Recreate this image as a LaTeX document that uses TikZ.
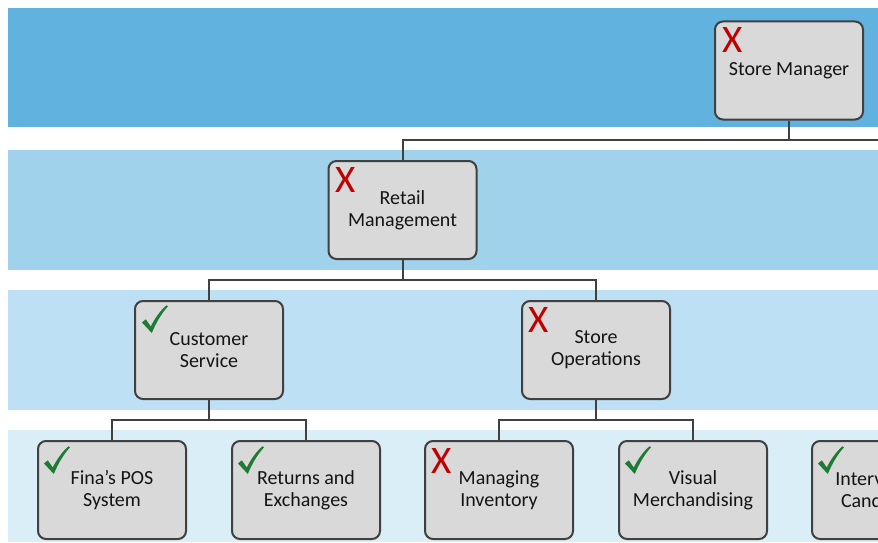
\documentclass[tikz,border=0pt]{standalone}
\usepackage{fontspec}
\setmainfont{Carlito}
\definecolor{bandA}{HTML}{62B2E0}
\definecolor{bandB}{HTML}{A0D2EC}
\definecolor{bandC}{HTML}{BDE0F5}
\definecolor{bandD}{HTML}{DAEEF8}
\definecolor{boxfill}{HTML}{D9D9D9}
\definecolor{boxline}{HTML}{404040}
\definecolor{xred}{HTML}{C00000}
\definecolor{okgreen}{HTML}{1E7B34}
\definecolor{txt}{HTML}{141414}
\begin{document}
\begin{tikzpicture}[x=1pt,y=-1pt,
  orgbox/.style={draw=boxline, fill=boxfill, line width=2pt, rounded corners=8pt,
    minimum width=148pt, minimum height=98pt, align=center, text=txt,
    font=\fontsize{20}{22}\selectfont, inner sep=0pt},
  conn/.style={draw=boxline, line width=2pt},
  xmark/.style={text=xred, font=\fontsize{39}{39}\selectfont, inner sep=0pt},
  okcheck/.pic={\fill[okgreen] (0,17.5) -- (3.8,14.3) -- (8.8,21.5)
     .. controls (13,13) and (18,6) .. (24.5,0.3) -- (26,1.3)
     .. controls (19,9) and (14,18) .. (9.8,28) -- cycle;}]
\useasboundingbox (0,0) rectangle (878,543);
\clip (0,0) rectangle (878,543);
% bands
\fill[bandA] (8,8) rectangle (900,127);
\fill[bandB] (8,150) rectangle (900,270);
\fill[bandC] (8,290) rectangle (900,410);
\fill[bandD] (8,430) rectangle (900,542);
% nodes
\node[orgbox] (sm) at (789,70.5) {Store Manager};
\node[orgbox] (rm) at (402.5,210) {Retail\\Management};
\node[orgbox] (cs) at (209,350) {Customer\\Service};
\node[orgbox] (so) at (596,350) {Store\\Operations};
\node[orgbox] (fp) at (112,490) {Fina’s POS\\System};
\node[orgbox] (re) at (306,490) {Returns and\\Exchanges};
\node[orgbox] (mi) at (499,490) {Managing\\Inventory};
\node[orgbox] (vm) at (693,490) {Visual\\Merchandising};
\node[orgbox] (ic) at (886,490) {Interviewing\\Candidates};
% marks
\node[xmark] (smm) at ([shift={(19,19.5)}]sm.north west) {X};
\node[xmark] (rmm) at ([shift={(18,20)}]rm.north west) {X};
\pic at ([shift={(8,5)}]cs.north west) {okcheck};
\node[xmark] (som) at ([shift={(18,20)}]so.north west) {X};
\pic at ([shift={(7,6)}]fp.north west) {okcheck};
\pic at ([shift={(7,6)}]re.north west) {okcheck};
\node[xmark] (mim) at ([shift={(18,21)}]mi.north west) {X};
\pic at ([shift={(7,6)}]vm.north west) {okcheck};
\pic at ([shift={(7,6)}]ic.north west) {okcheck};
% connectors
\coordinate (offR) at (1000,140);
\draw[conn] (rm.north) |- (offR);
\draw[conn] (sm.south) -- (sm.south |- offR);
\draw[conn] (rm.south) -- ++(0,20) -| (cs.north);
\draw[conn] (rm.south) -- ++(0,20) -| (so.north);
\draw[conn] (cs.south) -- ++(0,20) -| (fp.north);
\draw[conn] (cs.south) -- ++(0,20) -| (re.north);
\draw[conn] (so.south) -- ++(0,20) -| (mi.north);
\draw[conn] (so.south) -- ++(0,20) -| (vm.north);
\end{tikzpicture}
\end{document}
